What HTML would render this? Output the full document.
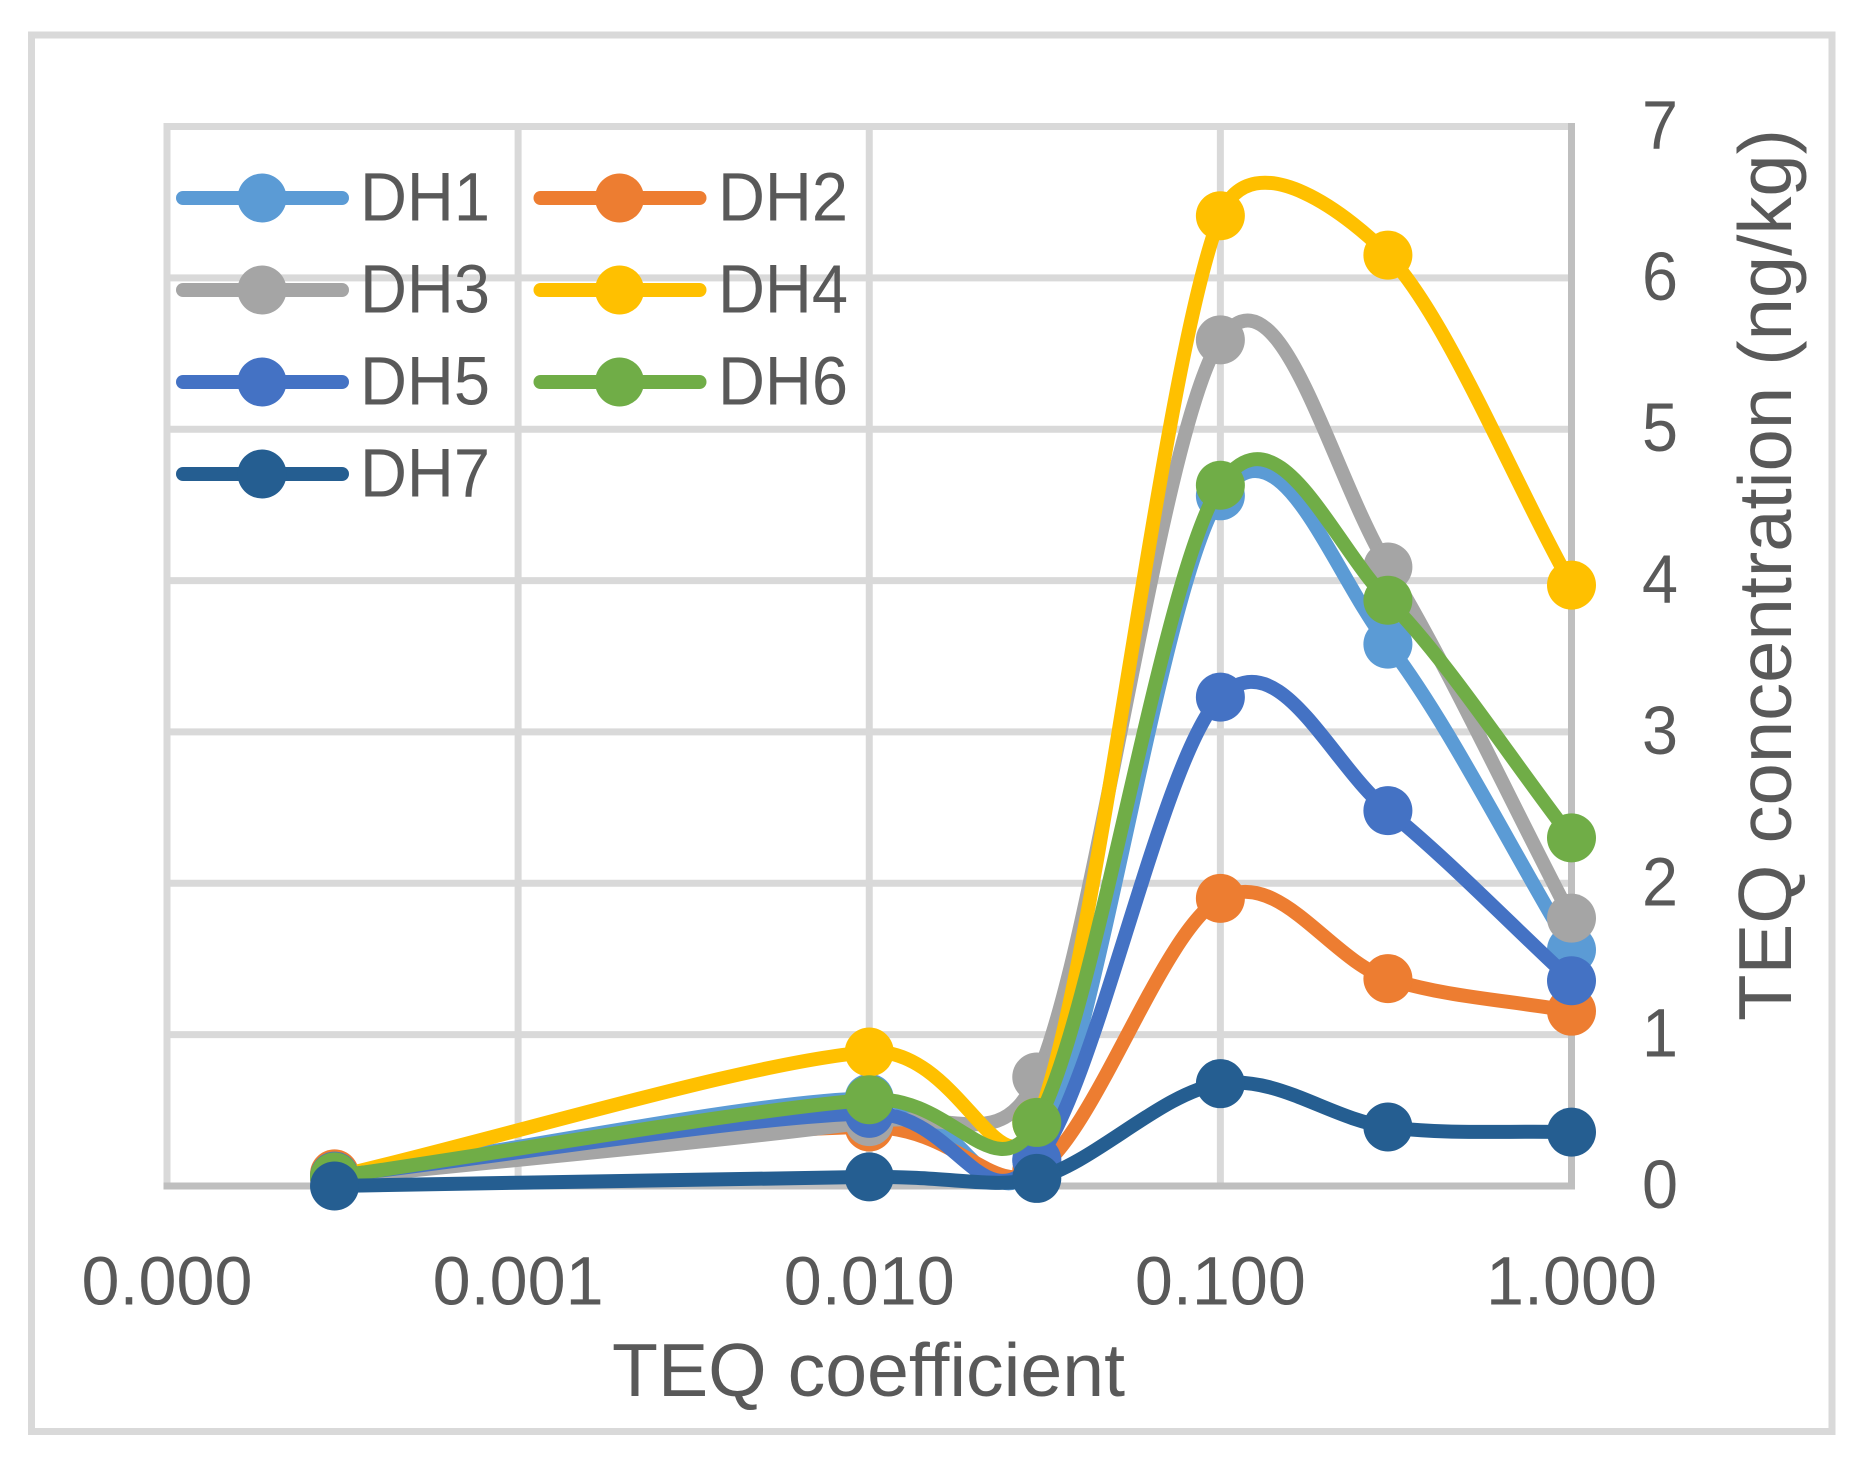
<!DOCTYPE html>
<html lang="en">
<head>
<meta charset="utf-8">
<title>TEQ concentration vs TEQ coefficient</title>
<style>
  html, body { margin: 0; padding: 0; background: #ffffff; }
  svg { display: block; }
  text { font-family: "Liberation Sans", sans-serif; fill: #595959; }
</style>
</head>
<body>
<svg id="chart" xmlns="http://www.w3.org/2000/svg" width="1866" height="1468" viewBox="0 0 1866 1468">
  <rect x="0" y="0" width="1866" height="1468" fill="#ffffff"/>
  <rect x="31.5" y="35" width="1800.5" height="1396.5" fill="#ffffff" stroke="#d9d9d9" stroke-width="7"/>
  <g id="grid"></g>
  <g id="axes"></g>
  <g id="series"></g>
  <g id="ticks"></g>
  <g id="legend"></g>
  <text x="612" y="1396" font-size="75" textLength="513" lengthAdjust="spacingAndGlyphs">TEQ coefficient</text>
  <text transform="translate(1791 1021) rotate(-90)" x="0" y="0" font-size="75" textLength="892" lengthAdjust="spacingAndGlyphs">TEQ concentration (ng/kg)</text>
</svg>
<script>
const teqCoefficients = [0.0003, 0.01, 0.03, 0.1, 0.3, 1];
const dh1Values = [0.06, 0.58, 0.17, 4.56, 3.58, 1.56];
const dh2Values = [0.08, 0.39, 0.10, 1.90, 1.37, 1.155];
const dh3Values = [0.05, 0.425, 0.72, 5.59, 4.09, 1.77];
const dh4Values = [0.06, 0.885, 0.42, 6.41, 6.15, 3.97];
const dh5Values = [0.065, 0.48, 0.17, 3.23, 2.48, 1.356];
const dh6Values = [0.06, 0.57, 0.42, 4.63, 3.87, 2.30];
const dh7Values = [0.0, 0.06, 0.05, 0.676, 0.39, 0.356];
const seriesNames = ["DH1", "DH2", "DH3", "DH4", "DH5", "DH6", "DH7"];
const xTickValues = [0.0001, 0.001, 0.01, 0.1, 1];
const xTickLabels = ["0.000", "0.001", "0.010", "0.100", "1.000"];
const yTickValues = [0, 1, 2, 3, 4, 5, 6, 7];
const yTickLabels = ["0", "1", "2", "3", "4", "5", "6", "7"];

const seriesColors = ["#5B9BD5", "#ED7D31", "#A5A5A5", "#FFC000", "#4472C4", "#70AD47", "#255E91"];
const seriesValues = [dh1Values, dh2Values, dh3Values, dh4Values, dh5Values, dh6Values, dh7Values];

const NS = "http://www.w3.org/2000/svg";
const plot = { left: 167, right: 1571.5, top: 126.5, bottom: 1186 };
const xMin = xTickValues[0];
const xMax = xTickValues[xTickValues.length - 1];
const yMin = yTickValues[0];
const yMax = yTickValues[yTickValues.length - 1];

function xScale(v) {
  return plot.left + (Math.log10(v) - Math.log10(xMin)) / (Math.log10(xMax) - Math.log10(xMin)) * (plot.right - plot.left);
}
function yScale(v) {
  return plot.bottom - (v - yMin) / (yMax - yMin) * (plot.bottom - plot.top);
}
function make(tag, attrs, parent) {
  const el = document.createElementNS(NS, tag);
  Object.keys(attrs).forEach(function (k) { el.setAttribute(k, attrs[k]); });
  parent.appendChild(el);
  return el;
}
function dist(a, b) { return Math.hypot(a[0] - b[0], a[1] - b[1]); }

/* Excel-style smoothed scatter path */
function smoothPath(pts) {
  const n = pts.length;
  let d = "M" + pts[0][0].toFixed(2) + " " + pts[0][1].toFixed(2);
  for (let i = 0; i < n - 1; i++) {
    const p0 = i === 0 ? pts[0] : pts[i - 1];
    const p1 = pts[i];
    const p2 = pts[i + 1];
    const p3 = i === n - 2 ? pts[n - 1] : pts[i + 2];
    const d02 = dist(p0, p2), d12 = dist(p1, p2), d13 = dist(p1, p3);
    let f, g;
    if (d02 / 6 < d12 / 2 && d13 / 6 < d12 / 2) {
      f = i !== 0 ? 1 / 6 : 1 / 3;
      g = i !== n - 2 ? 1 / 6 : 1 / 3;
    } else if (d02 / 6 >= d12 / 2 && d13 / 6 >= d12 / 2) {
      f = 0.5 * d12 / d02;
      g = 0.5 * d12 / d13;
    } else if (d02 / 6 >= d12 / 2) {
      f = 0.5 * d12 / d02;
      g = 0.5 * d12 / d02;
    } else {
      f = 0.5 * d12 / d13;
      g = 0.5 * d12 / d13;
    }
    const c1x = p1[0] + (p2[0] - p0[0]) * f;
    const c1y = p1[1] + (p2[1] - p0[1]) * f;
    const c2x = p2[0] + (p1[0] - p3[0]) * g;
    const c2y = p2[1] + (p1[1] - p3[1]) * g;
    d += "C" + c1x.toFixed(2) + " " + c1y.toFixed(2) + " " + c2x.toFixed(2) + " " + c2y.toFixed(2) + " " + p2[0].toFixed(2) + " " + p2[1].toFixed(2);
  }
  return d;
}

const gridLayer = document.getElementById("grid");
const axesLayer = document.getElementById("axes");
const seriesLayer = document.getElementById("series");
const ticksLayer = document.getElementById("ticks");
const legendLayer = document.getElementById("legend");

yTickValues.forEach(function (v, i) {
  if (v === yMin) return;
  const line = make("line", { x1: plot.left, x2: plot.right, y1: yScale(v), y2: yScale(v), stroke: "#d9d9d9", "stroke-width": 7 }, gridLayer);
  
  
});
xTickValues.forEach(function (v) {
  if (v === xMax) return;
  const line = make("line", { x1: xScale(v), x2: xScale(v), y1: plot.top - 3.5, y2: plot.bottom, stroke: "#d9d9d9", "stroke-width": 7 }, gridLayer);
  
  
});

const xAxisLine = make("line", { x1: plot.left - 3.5, x2: plot.right + 3, y1: plot.bottom, y2: plot.bottom, stroke: "#bfbfbf", "stroke-width": 7 }, axesLayer);


const yAxisLine = make("line", { x1: plot.right, x2: plot.right, y1: plot.top - 3.5, y2: plot.bottom + 3.5, stroke: "#bfbfbf", "stroke-width": 7 }, axesLayer);



seriesValues.forEach(function (vals, s) {
  const g = make("g", {}, seriesLayer);
  
  
  const pts = vals.map(function (v, i) { return [xScale(teqCoefficients[i]), yScale(v)]; });
  const path = make("path", { d: smoothPath(pts), fill: "none", stroke: seriesColors[s], "stroke-width": 14, "stroke-linecap": "round", "stroke-linejoin": "round" }, g);
  
  
  pts.forEach(function (p) {
    const c = make("circle", { cx: p[0], cy: p[1], r: 24.5, fill: seriesColors[s] }, g);
    
    
  });
});

xTickValues.forEach(function (v, i) {
  const t = make("text", { x: xScale(v) - 85.5, y: 1304.5, "font-size": 69, textLength: 171, lengthAdjust: "spacingAndGlyphs" }, ticksLayer);
  t.textContent = xTickLabels[i];
  
  
});
yTickValues.forEach(function (v, i) {
  const t = make("text", { x: 1642, y: yScale(v) + 22, "font-size": 69, textLength: 36, lengthAdjust: "spacingAndGlyphs" }, ticksLayer);
  t.textContent = yTickLabels[i];
  
  
});

seriesNames.forEach(function (name, s) {
  const col = s % 2;
  const row = Math.floor(s / 2);
  const x0 = 183 + col * 357.5;
  const x1 = 342 + col * 357.5;
  const cy = 198 + row * 92;
  const g = make("g", {}, legendLayer);
  
  
  const l = make("line", { x1: x0, x2: x1, y1: cy, y2: cy, stroke: seriesColors[s], "stroke-width": 14, "stroke-linecap": "round" }, g);
  
  
  const m = make("circle", { cx: 262 + col * 357.5, cy: cy, r: 24.5, fill: seriesColors[s] }, g);
  
  
  const t = make("text", { x: 360 + col * 358, y: cy + 22.5, "font-size": 69, textLength: 130, lengthAdjust: "spacingAndGlyphs" }, g);
  t.textContent = name;
  
  
});
</script>
</body>
</html>
